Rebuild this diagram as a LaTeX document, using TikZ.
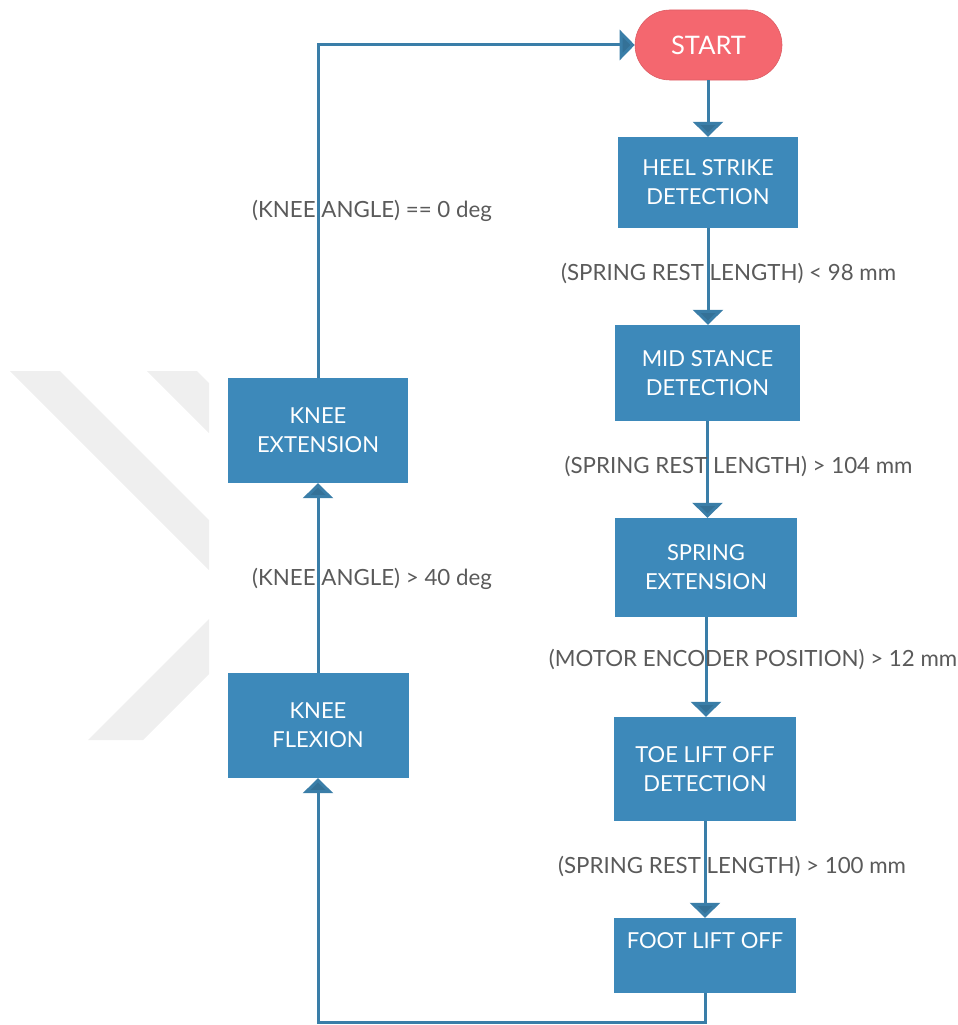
\documentclass[tikz,border=0pt]{standalone}
\usepackage{fontspec}
\setmainfont{Lato}
\usetikzlibrary{arrows.meta}
\definecolor{boxblue}{HTML}{3D89BA}
\definecolor{lineblue}{HTML}{3A7EA8}
\definecolor{startred}{HTML}{F4676F}
\definecolor{labelgray}{HTML}{5A5A5A}
\definecolor{wmgray}{HTML}{EFEFEF}
\tikzset{
  stepbox/.style={rectangle, fill=boxblue, draw=none, inner sep=0pt, text=white, align=center,
    font=\fontsize{22}{29}\selectfont},
  startbox/.style={rectangle, rounded corners=35pt, fill=startred, draw=startred!90!black, line width=0.6pt,
    inner sep=0pt, text=white, minimum width=147pt, minimum height=70pt, font=\fontsize{25.5}{30}\selectfont},
  cond/.style={text=labelgray, inner sep=0pt, font=\fontsize{22.3}{27}\selectfont},
  flow/.style={draw=lineblue, line width=3pt, -{Triangle[width=30pt,length=15pt,fill=lineblue!90!black]}},
}
\begin{document}
\begin{tikzpicture}[x=1pt,y=-1pt]
\useasboundingbox (0,0) rectangle (958,1025);
% watermark
\fill[wmgray] (10,371) -- (60,371) -- (209,520) -- (209,570) -- cycle;
\fill[wmgray] (147,371) -- (197,371) -- (209,383) -- (209,433) -- cycle;
\fill[wmgray] (88,740) -- (143,740) -- (209,674) -- (209,619) -- cycle;
% nodes
\node[startbox] (start) at (708.5,45) {START};
\node[stepbox, minimum width=180pt, minimum height=91pt] (heel) at (708,182.5) {HEEL STRIKE\\DETECTION};
\node[stepbox, minimum width=185pt, minimum height=96pt] (mid) at (707.5,373) {MID STANCE\\DETECTION};
\node[stepbox, minimum width=182pt, minimum height=99pt] (spring) at (706,567.5) {SPRING\\EXTENSION};
\node[stepbox, minimum width=182pt, minimum height=104pt] (toe) at (705,769) {TOE LIFT OFF\\DETECTION};
\node[stepbox, minimum width=182pt, minimum height=75pt] (foot) at (705,955.5) {FOOT LIFT OFF\\[-8pt]\strut};
\node[stepbox, minimum width=181pt, minimum height=105pt] (flex) at (318,725.5) {KNEE\\FLEXION};
\node[stepbox, minimum width=180pt, minimum height=105pt] (ext) at (318,430.5) {KNEE\\EXTENSION};
\coordinate (bl) at (318,1022);
\coordinate (tl) at (318,45);
% connectors
\draw[flow] (start.south -| heel.north) -- (heel.north);
\draw[flow] (heel.south) -- (heel.south |- mid.north);
\draw[flow] (mid.south) -- (mid.south |- spring.north);
\draw[flow] (spring.south) -- (spring.south |- toe.north);
\draw[flow] (toe.south) -- (toe.south |- foot.north);
\draw[flow] (foot.south) |- (bl) -- (flex.south);
\draw[flow] (flex.north) -- (ext.south);
\draw[flow] (ext.north) -- (tl) -- (start.west);
% condition labels
\node[cond] (c1) at (728.5,273) {(SPRING REST LENGTH) < 98 mm};
\node[cond] (c2) at (738.5,466) {(SPRING REST LENGTH) > 104 mm};
\node[cond] (c3) at (753,659) {(MOTOR ENCODER POSITION) > 12 mm};
\node[cond] (c4) at (732,866) {(SPRING REST LENGTH) > 100 mm};
\node[cond] (c5) at (372,579) {(KNEE ANGLE) > 40 deg};
\node[cond] (c6) at (372,211) {(KNEE ANGLE) == 0 deg};
\end{tikzpicture}
\end{document}
